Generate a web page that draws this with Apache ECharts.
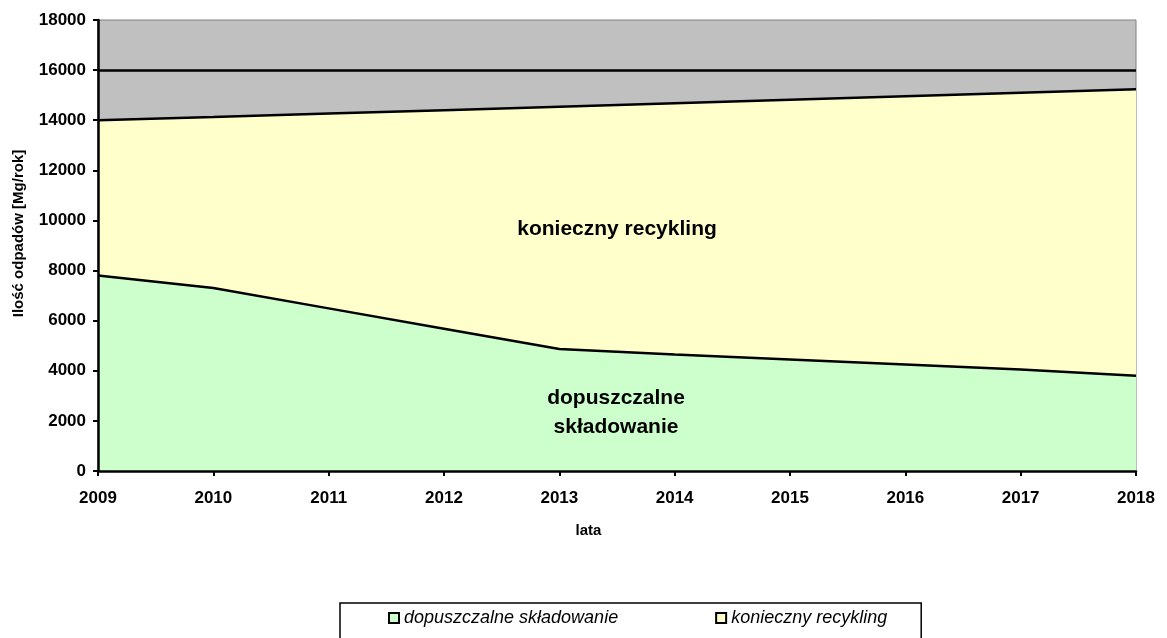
<!DOCTYPE html>
<html>
<head>
<meta charset="utf-8">
<script src="https://cdn.jsdelivr.net/npm/echarts@6/dist/echarts.min.js"></script>
<style>
html,body{margin:0;padding:0;background:#fff;}
#chart{width:1167px;height:638px;}
</style>
</head>
<body>
<div id="chart"></div>
<script>
var years = ['2009','2010','2011','2012','2013','2014','2015','2016','2017','2018'];
var skladowanie = [7800, 7300, 6490, 5680, 4870, 4650, 4450, 4250, 4050, 3800];
var recykling = [6200, 6830, 7780, 8720, 9670, 10030, 10370, 10710, 11050, 11440];
var limitLine = [16000];
var seriesNames = ['dopuszczalne składowanie', 'konieczny recykling'];
var areaLabels = ['konieczny recykling', 'dopuszczalne', 'składowanie'];

var FONT = '"Liberation Sans", Arial, sans-serif';
var chart = echarts.init(document.getElementById('chart'));
chart.setOption({
  animation: false,
  textStyle: { fontFamily: FONT },
  grid: {
    left: 98, right: 31, top: 20, bottom: 167,
    show: true, backgroundColor: '#C0C0C0', borderColor: '#808080', borderWidth: 1
  },
  legend: {
    left: 340, top: 603,
    orient: 'horizontal',
    padding: [6, 34, 14, 48],
    itemGap: 97,
    itemWidth: 10, itemHeight: 10,
    borderColor: '#000', borderWidth: 1.5,
    icon: 'rect',
    textStyle: { fontFamily: FONT, fontSize: 18, fontStyle: 'italic', color: '#000' },
    data: [
      { name: seriesNames[0], itemStyle: { color: '#CCFFCC', borderColor: '#000', borderWidth: 2 } },
      { name: seriesNames[1], itemStyle: { color: '#FFFFCC', borderColor: '#000', borderWidth: 2 } }
    ]
  },
  xAxis: {
    type: 'category',
    z: 10,
    data: years,
    boundaryGap: false,
    name: 'lata',
    nameLocation: 'middle',
    nameGap: 52,
    nameTextStyle: { fontFamily: FONT, fontSize: 15, fontWeight: 'bold', color: '#000', padding: [0, 57, 0, 0] },
    axisLine: { lineStyle: { color: '#000', width: 2.5 } },
    axisTick: { show: true, inside: false, length: 5, lineStyle: { color: '#000', width: 2 } },
    axisLabel: { fontFamily: FONT, fontSize: 17, fontWeight: 'bold', color: '#000', margin: 19 },
    splitLine: { show: false }
  },
  yAxis: {
    type: 'value',
    z: 10,
    min: 0, max: 18000, interval: 2000,
    name: 'Ilość odpadów [Mg/rok]',
    nameLocation: 'middle',
    nameRotate: 90,
    nameGap: 72,
    nameTextStyle: { fontFamily: FONT, fontSize: 15, fontWeight: 'bold', color: '#000', padding: [0, 0, 0, 24] },
    axisLine: { show: true, lineStyle: { color: '#000', width: 2.5 } },
    axisTick: { show: true, inside: false, length: 5, lineStyle: { color: '#000', width: 2 } },
    axisLabel: { fontFamily: FONT, fontSize: 17, fontWeight: 'bold', color: '#000', margin: 12,
      formatter: function (v) { return String(v); } },
    splitLine: { show: false }
  },
  series: [
    {
      name: seriesNames[0],
      type: 'line',
      stack: 'total',
      data: skladowanie,
      symbol: 'none',
      lineStyle: { color: '#000', width: 2.5 },
      itemStyle: { color: '#CCFFCC' },
      areaStyle: { color: '#CCFFCC', opacity: 1 },
      z: 3
    },
    {
      name: seriesNames[1],
      type: 'line',
      stack: 'total',
      data: recykling,
      symbol: 'none',
      lineStyle: { color: '#000', width: 2.5 },
      itemStyle: { color: '#FFFFCC' },
      areaStyle: { color: '#FFFFCC', opacity: 1 },
      z: 2,
      markLine: {
        silent: true,
        symbol: 'none',
        label: { show: false },
        lineStyle: { color: '#000', width: 2.5, type: 'solid' },
        data: [{ yAxis: limitLine[0] }]
      }
    }
  ],
  graphic: [
    {
      type: 'text', x: 617, y: 229, z: 100,
      style: { text: areaLabels[0], font: 'bold 21px "Liberation Sans", Arial, sans-serif', fill: '#000', align: 'center', verticalAlign: 'middle' }
    },
    {
      type: 'text', x: 616, y: 398, z: 100,
      style: { text: areaLabels[1], font: 'bold 21px "Liberation Sans", Arial, sans-serif', fill: '#000', align: 'center', verticalAlign: 'middle' }
    },
    {
      type: 'text', x: 616, y: 427, z: 100,
      style: { text: areaLabels[2], font: 'bold 21px "Liberation Sans", Arial, sans-serif', fill: '#000', align: 'center', verticalAlign: 'middle' }
    }
  ]
});
</script>
</body>
</html>
